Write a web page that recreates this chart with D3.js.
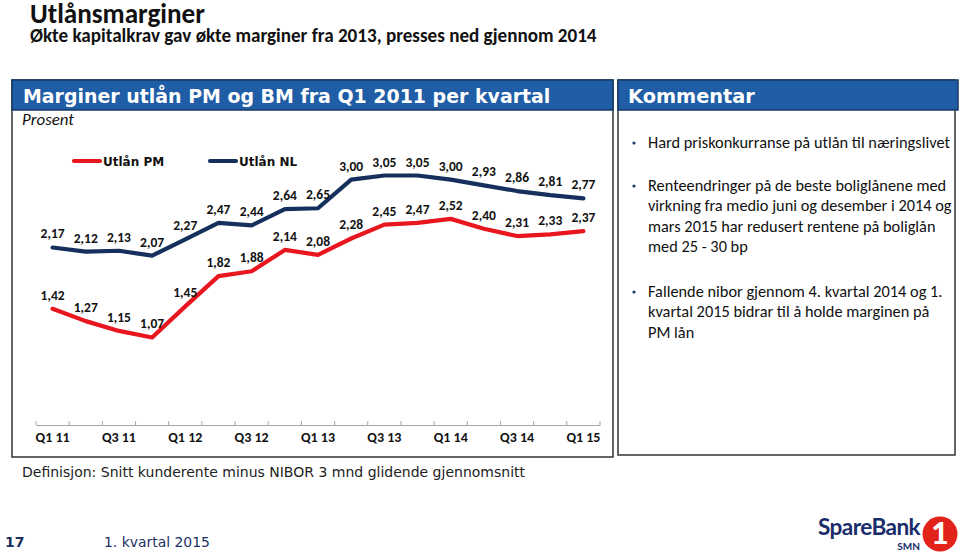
<!DOCTYPE html>
<html><head><meta charset="utf-8">
<script src="https://cdn.jsdelivr.net/npm/d3@7"></script>
<style>
html,body{margin:0;padding:0;background:#fff;}
svg{display:block;}
</style></head>
<body>
<svg id="c" width="960" height="554"></svg>
<script>
const quarters = ["Q1 11","Q2 11","Q3 11","Q4 11","Q1 12","Q2 12","Q3 12","Q4 12","Q1 13","Q2 13","Q3 13","Q4 13","Q1 14","Q2 14","Q3 14","Q4 14","Q1 15"];
const tickLabels = ["Q1 11","Q3 11","Q1 12","Q3 12","Q1 13","Q3 13","Q1 14","Q3 14","Q1 15"];
const utlanPM = [1.42,1.27,1.15,1.07,1.45,1.82,1.88,2.14,2.08,2.28,2.45,2.47,2.52,2.40,2.31,2.33,2.37];
const utlanNL = [2.17,2.12,2.13,2.07,2.27,2.47,2.44,2.64,2.65,3.00,3.05,3.05,3.00,2.93,2.86,2.81,2.77];
const seriesNames = ["Utlån PM","Utlån NL"];
const seriesColors = ["#E8161E","#16305E"];
const comments = [
  ["Hard priskonkurranse på utlån til næringslivet"],
  ["Renteendringer på de beste boliglånene med","virkning fra medio juni og desember i 2014 og","mars 2015 har redusert rentene på boliglån","med 25 - 30 bp"],
  ["Fallende nibor gjennom 4. kvartal 2014 og 1.","kvartal 2015  bidrar til å holde marginen på","PM lån"]
];

const svg = d3.select("#c");
const cal = "Carlito, Lato, sans-serif";
const sans = "Lato, Carlito, sans-serif";
const verd = "'DejaVu Sans', Verdana, sans-serif";

function fit(sel, target){
  const n = sel.node();
  const fs = parseFloat(sel.attr("font-size"));
  const len = n.getComputedTextLength();
  sel.attr("font-size", (fs*target/len).toFixed(2));
  return fs*target/len;
}

// Titles
fit(svg.append("text").attr("x",30).attr("y",23).attr("font-family",cal).attr("font-weight",700)
  .attr("font-size",28).attr("fill","#111").text("Utlånsmarginer"),175);
fit(svg.append("text").attr("x",30).attr("y",42).attr("font-family",cal).attr("font-weight",700)
  .attr("font-size",18).attr("fill","#111").text("Økte kapitalkrav gav økte marginer fra 2013, presses ned gjennom 2014"),567);

// Left panel
svg.append("rect").attr("x",12).attr("y",80).attr("width",601).attr("height",377)
  .attr("fill","#fff").attr("stroke","#333").attr("stroke-width",1.5);
svg.append("rect").attr("x",12).attr("y",80).attr("width",601).attr("height",30)
  .attr("fill","#1F5DA6").attr("stroke","#163a66").attr("stroke-width",1.5);
fit(svg.append("text").attr("x",23).attr("y",103).attr("font-family",verd).attr("font-weight",700)
  .attr("font-size",18).attr("fill","#fff").text("Marginer utlån PM og BM fra Q1 2011 per kvartal"),528);
fit(svg.append("text").attr("x",22).attr("y",125).attr("font-family",cal).attr("font-style","italic")
  .attr("font-size",15).attr("fill","#111").text("Prosent"),52);

// Right panel
svg.append("rect").attr("x",618).attr("y",80).attr("width",337).attr("height",375)
  .attr("fill","#fff").attr("stroke","#333").attr("stroke-width",1.5);
svg.append("rect").attr("x",618).attr("y",80).attr("width",340).attr("height",30)
  .attr("fill","#1F5DA6").attr("stroke","#163a66").attr("stroke-width",1.5);
fit(svg.append("text").attr("x",628).attr("y",103).attr("font-family",verd).attr("font-weight",700)
  .attr("font-size",18).attr("fill","#fff").text("Kommentar"),127);

// Comments
const cStarts = [148,191,297];
let cfs = null;
comments.forEach((lines,i)=>{
  svg.append("circle").attr("cx",634).attr("cy",cStarts[i]-5).attr("r",1.6).attr("fill","#1F3A6E");
  lines.forEach((ln,j)=>{
    const t = svg.append("text").attr("x",648).attr("y",cStarts[i]+j*20.3)
      .attr("font-family",cal).attr("font-size",cfs||15.5).attr("fill","#111").text(ln);
    if(!cfs) cfs = fit(t,302);
  });
});

// Chart
const x = d3.scaleBand().domain(quarters).range([36,600]);
const y = d3.scaleLinear().domain([0,3.5]).range([425,138.7]);
const g = svg.append("g");

// axis
const axis = d3.axisBottom(x).tickSize(0).tickFormat(d=> tickLabels.includes(d)?d:"");
const ax = g.append("g").attr("transform","translate(0,425)").call(axis);
ax.select(".domain").attr("stroke","#A6A6A6").attr("stroke-width",1.2);
ax.selectAll("text").attr("font-family",cal).attr("font-weight",700).attr("font-size",14)
  .attr("fill","#111").attr("dy","1.0em");
// tick marks at band boundaries
const bounds = quarters.map(q=>x(q)).concat([x.range()[1]]);
g.selectAll(".tk").data(bounds).join("line").attr("class","tk")
  .attr("x1",d=>d).attr("x2",d=>d).attr("y1",421).attr("y2",425)
  .attr("stroke","#A6A6A6").attr("stroke-width",1);

const cx = d=>x(d)+x.bandwidth()/2;
[utlanPM, utlanNL].forEach((vals,si)=>{
  const line = d3.line().x((v,i)=>cx(quarters[i])).y(v=>y(v));
  g.append("path").datum(vals).attr("d",line).attr("fill","none")
    .attr("stroke",seriesColors[si]).attr("stroke-width",4.2)
    .attr("stroke-linejoin","round").attr("stroke-linecap","round");
  g.selectAll(".lb"+si).data(vals).join("text").attr("class","lb"+si)
    .attr("x",(v,i)=>cx(quarters[i])).attr("y",v=>y(v)-9)
    .attr("text-anchor","middle").attr("font-family",cal).attr("font-weight",700)
    .attr("font-size",13.5).attr("fill","#111")
    .text(v=>d3.format(".2f")(v).replace(".",","));
});

// legend
const legX = [74,210];
seriesNames.forEach((n,i)=>{
  svg.append("line").attr("x1",legX[i]).attr("x2",legX[i]+26).attr("y1",161).attr("y2",161)
    .attr("stroke",seriesColors[i]).attr("stroke-width",4.2).attr("stroke-linecap","round");
  svg.append("text").attr("x",legX[i]+29).attr("y",165.5).attr("font-family",verd)
    .attr("font-weight",700).attr("font-size",12).attr("fill","#111").text(n);
});

// Definition
fit(svg.append("text").attr("x",22).attr("y",477).attr("font-family",verd)
  .attr("font-size",14).attr("fill","#222").text("Definisjon: Snitt kunderente minus NIBOR 3 mnd glidende gjennomsnitt"),503);

// Footer
svg.append("text").attr("x",5).attr("y",547).attr("font-family",verd).attr("font-weight",700)
  .attr("font-size",14).attr("fill","#1B2F5E").text("17");
fit(svg.append("text").attr("x",104).attr("y",547).attr("font-family",verd)
  .attr("font-size",14).attr("fill","#1B3266").text("1. kvartal 2015"),106);

// Logo
fit(svg.append("text").attr("x",818).attr("y",535).attr("font-family",sans).attr("font-weight",700)
  .attr("font-size",27).attr("fill","#1A2D6B").attr("letter-spacing",-0.6).text("SpareBank"),103);
svg.append("text").attr("x",920).attr("y",550).attr("text-anchor","end").attr("font-family",sans).attr("font-weight",700)
  .attr("font-size",10).attr("fill","#1A2D6B").text("SMN");
svg.append("circle").attr("cx",940).attr("cy",534).attr("r",17.5).attr("fill","#E2231A");
svg.append("text").attr("x",940).attr("y",544).attr("text-anchor","middle").attr("font-family",sans).attr("font-weight",900)
  .attr("font-size",30).attr("fill","#fff").text("1");
</script>
</body></html>
